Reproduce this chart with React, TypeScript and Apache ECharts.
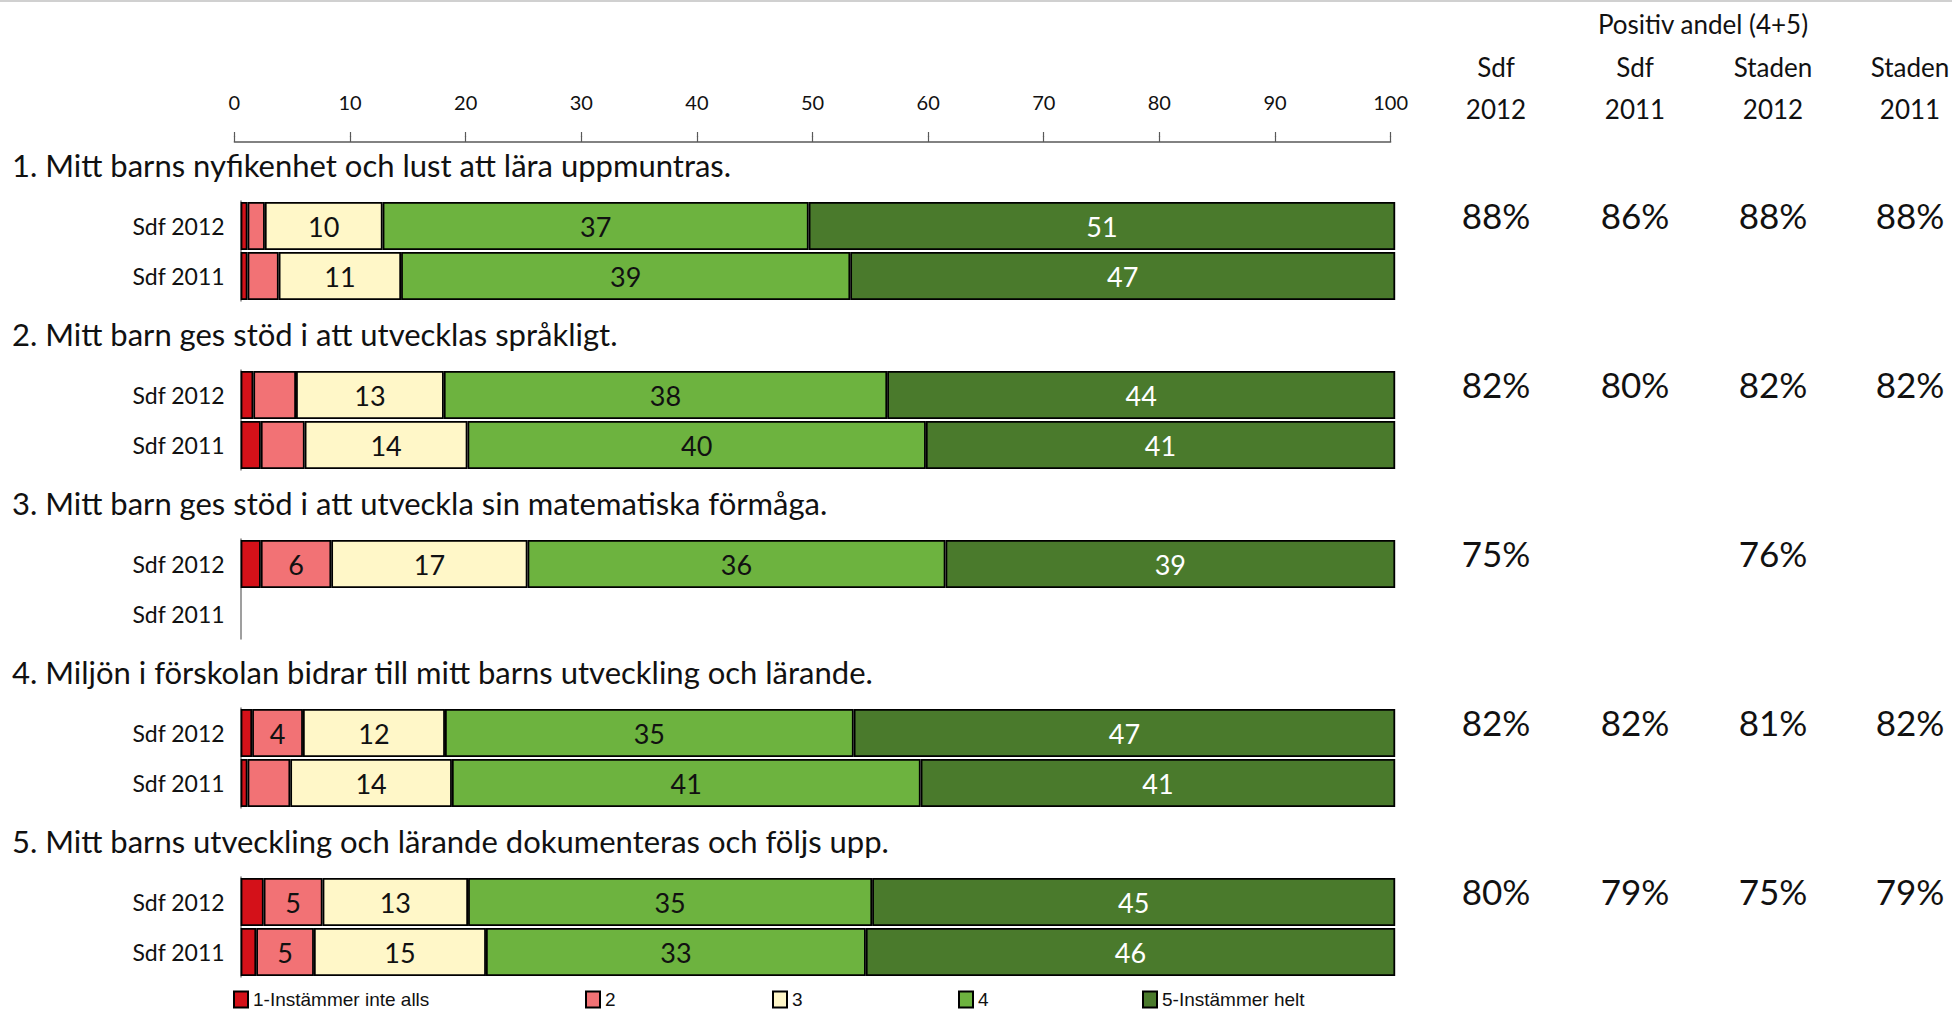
import React, { useEffect, useRef } from "react";
import * as echarts from "echarts";

// ---------- data ----------
const QUESTIONS = [
  "1. Mitt barns nyfikenhet och lust att lära uppmuntras.",
  "2. Mitt barn ges stöd i att utvecklas språkligt.",
  "3. Mitt barn ges stöd i att utveckla sin matematiska förmåga.",
  "4. Miljön i förskolan bidrar till mitt barns utveckling och lärande.",
  "5. Mitt barns utveckling och lärande dokumenteras och följs upp.",
];
const ROWS = ["Sdf 2012", "Sdf 2011"];
const LEVELS = ["1-Instämmer inte alls", "2", "3", "4", "5-Instämmer helt"];
const COLORS = ["#D41119", "#F27275", "#FFF7C8", "#6DB33F", "#4A7A2C"];

// values per level, per question (Sdf 2012)
const L1_2012 = [0.6, 1.1, 1.75, 1.0, 2.0];
const L2_2012 = [1.5, 3.7, 6.1, 4.4, 5.1];
const L3_2012 = [10.2, 12.8, 17.0, 12.3, 12.6];
const L4_2012 = [36.9, 38.4, 36.2, 35.4, 35.0];
const L5_2012 = [50.8, 44.0, 38.95, 46.9, 45.3];
// (Sdf 2011)
const L1_2011 = [0.6, 1.75, null, 0.6, 1.35];
const L2_2011 = [2.7, 3.8, null, 3.7, 5.0];
const L3_2011 = [10.6, 14.1, null, 14.0, 14.9];
const L4_2011 = [38.9, 39.7, null, 40.6, 32.9];
const L5_2011 = [47.2, 40.65, null, 41.1, 45.85];

const VALUES_2012 = [L1_2012, L2_2012, L3_2012, L4_2012, L5_2012];
const VALUES_2011 = [L1_2011, L2_2011, L3_2011, L4_2011, L5_2011];

const AXIS_TICKS = [0, 10, 20, 30, 40, 50, 60, 70, 80, 90, 100];

const PCT_HEADER_TOP = "Positiv andel (4+5)";
const PCT_HEADER_1 = ["Sdf", "Sdf", "Staden", "Staden"];
const PCT_HEADER_2 = ["2012", "2011", "2012", "2011"];
const PCT_SDF_2012 = [88, 82, 75, 82, 80];
const PCT_SDF_2011 = [86, 80, null, 82, 79];
const PCT_STADEN_2012 = [88, 82, 76, 81, 75];
const PCT_STADEN_2011 = [88, 82, null, 82, 79];
const PCT_COLUMNS = [PCT_SDF_2012, PCT_SDF_2011, PCT_STADEN_2012, PCT_STADEN_2011];

// ---------- layout ----------
const FONT = "Lato, 'Open Sans', sans-serif";
const NARROW = "'Liberation Sans Narrow', 'Liberation Sans', Arial, sans-serif";
const W = 1952;
const H = 1011;
const PERIOD = 169;
const GRID_TOP0 = 201;
const GRID_H = 100;
const BAR_LEFT = 240.6;
const BAR_W = 1154.6;
const AXIS_LEFT = 234.4;
const AXIS_W = 1156.2;
const TITLE_Y0 = 165;
const PCT_Y0 = 215;
const PCT_X = [1496, 1635, 1773, 1910];
const LEGEND_LEFT = [233, 585, 772, 958, 1142];

function buildOption() {
  const grid: any[] = [
    { left: AXIS_LEFT, top: 132, width: AXIS_W, height: 10, containLabel: false },
  ];
  const xAxis: any[] = [
    {
      gridIndex: 0,
      type: "value",
      min: 0,
      max: 100,
      interval: 10,
      position: "top",
      axisLine: { show: true, lineStyle: { color: "#595959", width: 1.5 } },
      axisTick: { show: true, length: 6, lineStyle: { color: "#595959", width: 1.2 } },
      axisLabel: {
        show: true,
        margin: 20,
        fontFamily: FONT,
        fontSize: 20,
        color: "#111",
        formatter: (v: number) => (AXIS_TICKS.includes(v) ? String(v) : ""),
      },
      splitLine: { show: false },
    },
    {
      gridIndex: 0,
      type: "value",
      min: 0,
      max: 100,
      interval: 10,
      position: "top",
      offset: 0,
      axisLine: { show: false },
      axisTick: { show: true, inside: true, length: 5, lineStyle: { color: "#595959", width: 1.2 } },
      axisLabel: { show: false },
      splitLine: { show: false },
    },
  ];
  const yAxis: any[] = [{ gridIndex: 0, type: "value", show: false }];
  const series: any[] = [];

  QUESTIONS.forEach((_, q) => {
    grid.push({ left: BAR_LEFT, top: GRID_TOP0 + q * PERIOD, width: BAR_W, height: GRID_H });
    xAxis.push({ gridIndex: q + 1, type: "value", min: 0, max: 100, show: false });
    yAxis.push({
      gridIndex: q + 1,
      type: "category",
      data: ROWS,
      inverse: true,
      axisLine: { show: true, lineStyle: { color: "#7f7f7f", width: 1.5 } },
      axisTick: { show: false },
      axisLabel: { margin: 16, fontFamily: FONT, fontSize: 23, color: "#111" },
      splitLine: { show: false },
    });
    LEVELS.forEach((name, k) => {
      series.push({
        type: "bar",
        name,
        stack: "q" + q,
        xAxisIndex: q + 2,
        yAxisIndex: q + 1,
        barWidth: 48,
        data: [VALUES_2012[k][q], VALUES_2011[k][q]],
        itemStyle: { color: COLORS[k], borderColor: "#000", borderWidth: 1.8 },
        label: {
          show: true,
          position: "inside",
          fontFamily: FONT,
          fontSize: 27,
          color: k === 4 ? "#fff" : "#111",
          formatter: (p: any) => (p.value != null && p.value >= 4 ? String(Math.round(p.value)) : ""),
        },
        emphasis: { disabled: true },
      });
    });
  });

  const legend = LEVELS.map((name, k) => ({
    data: [name],
    left: LEGEND_LEFT[k],
    top: 990,
    padding: 0,
    itemWidth: 14,
    itemHeight: 16,
    itemGap: 0,
    icon: "rect",
    selectedMode: false,
    textStyle: { fontFamily: NARROW, fontSize: 19, color: "#111" },
  }));

  const graphic: any[] = [
    {
      type: "line",
      shape: { x1: 0, y1: 1, x2: W, y2: 1 },
      style: { stroke: "#d0d0d0", lineWidth: 2 },
    },
    {
      type: "text",
      x: 1703,
      y: 24,
      style: {
        text: PCT_HEADER_TOP,
        fontFamily: FONT,
        fontSize: 26,
        fill: "#111",
        textAlign: "center",
        textVerticalAlign: "middle",
      },
    },
  ];
  PCT_X.forEach((x, c) => {
    graphic.push({
      type: "text",
      x,
      y: 67,
      style: { text: PCT_HEADER_1[c], fontFamily: FONT, fontSize: 26, fill: "#111", textAlign: "center", textVerticalAlign: "middle" },
    });
    graphic.push({
      type: "text",
      x,
      y: 109,
      style: { text: PCT_HEADER_2[c], fontFamily: FONT, fontSize: 26, fill: "#111", textAlign: "center", textVerticalAlign: "middle" },
    });
  });
  QUESTIONS.forEach((t, q) => {
    graphic.push({
      type: "text",
      x: 12,
      y: TITLE_Y0 + q * PERIOD,
      style: { text: t, fontFamily: FONT, fontSize: 31, fill: "#111", textAlign: "left", textVerticalAlign: "middle" },
    });
    PCT_COLUMNS.forEach((col, c) => {
      const v = col[q];
      if (v == null) return;
      graphic.push({
        type: "text",
        x: PCT_X[c],
        y: PCT_Y0 + q * PERIOD,
        style: { text: v + "%", fontFamily: FONT, fontSize: 35, fill: "#111", textAlign: "center", textVerticalAlign: "middle" },
      });
    });
  });

  return {
    animation: false,
    backgroundColor: "#fff",
    grid,
    xAxis,
    yAxis,
    series,
    legend,
    graphic,
    tooltip: { show: false },
  };
}

export default function App() {
  const ref = useRef<HTMLDivElement>(null);
  useEffect(() => {
    document.body.style.margin = "0";
    document.body.style.overflow = "hidden";
    document.documentElement.style.overflow = "hidden";
    if (!ref.current) return;
    const chart = echarts.init(ref.current, undefined, { renderer: "svg" });
    chart.setOption(buildOption() as any);
    return () => chart.dispose();
  }, []);
  return (
    <div
      ref={ref}
      style={{ width: W, height: H, background: "#fff", overflow: "hidden" }}
    />
  );
}
